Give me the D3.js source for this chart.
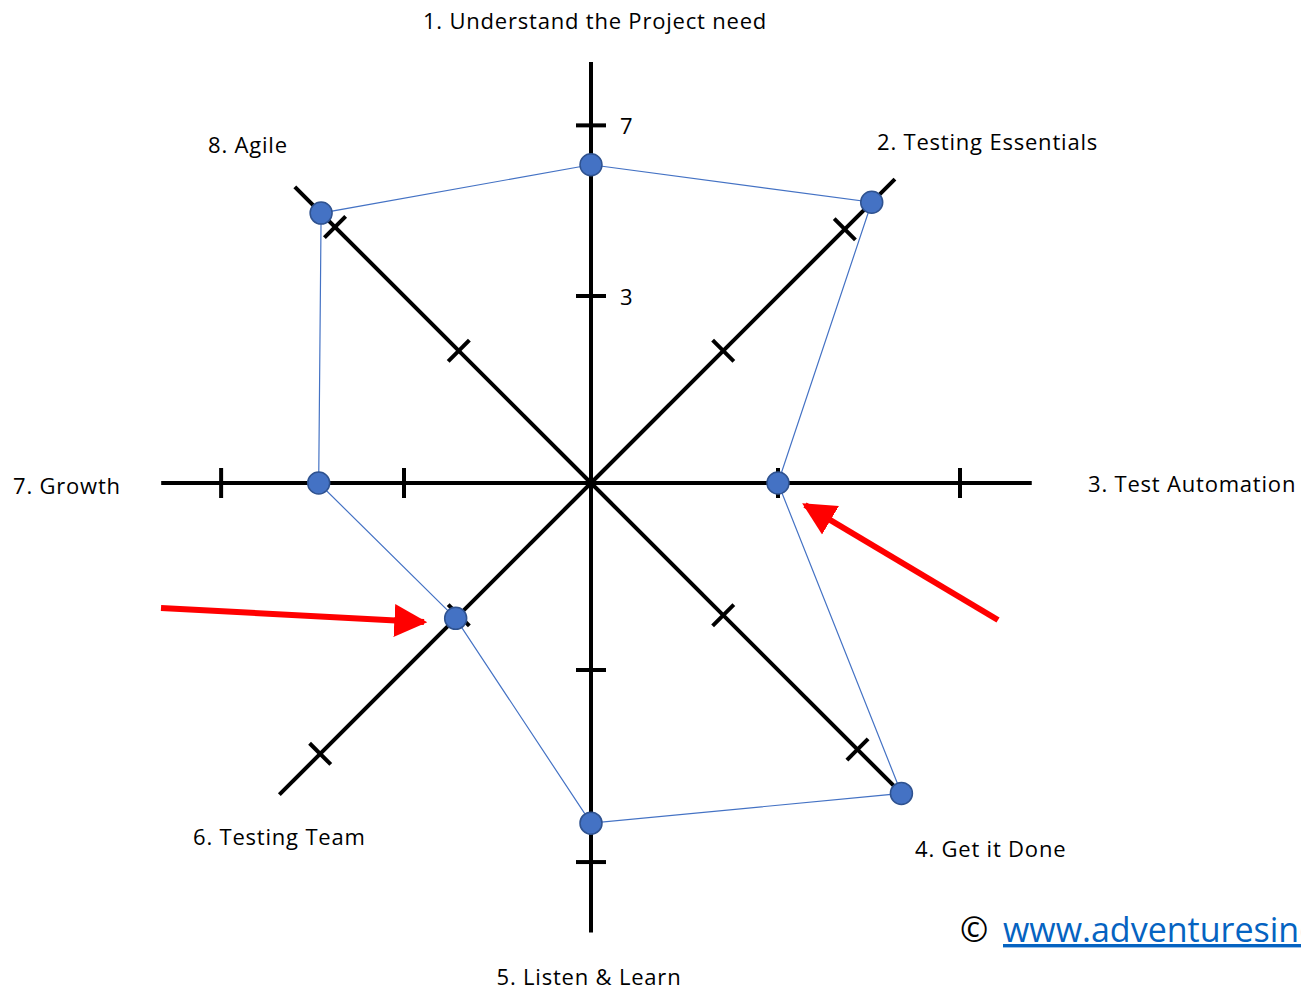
<!DOCTYPE html>
<html><head><meta charset="utf-8">
<script src="https://cdn.jsdelivr.net/npm/d3@7"></script>
<style>html,body{margin:0;padding:0;background:#fff;overflow:hidden}</style>
</head><body>
<svg id="chart" width="1301" height="991"></svg>
<script>
// ---- data ----
const axisLabels = ["1. Understand the Project need","2. Testing Essentials","3. Test Automation","4. Get it Done","5. Listen & Learn","6. Testing Team","7. Growth","8. Agile"];
const scores = [6.0, 7.8, 3.0, 8.76, 6.5, 3.1, 4.95, 7.45];
const innerTicks = [3, 3, 3, 3, 3, 3, 3, 3];
const outerTicks = [6.9, 6.93, 7.16, 7.34, 7.39, 7.48, 7.18, 7.0];
const axisEnds = [8.35, 8.55, 8.8, 8.55, 9.0, 8.8, 8.55, 8.3];
const tickLabels = ["3", "7"];
const tickLabelValues = [3, 6.9];
const copyrightText = "www.adventuresinqa.com";

// ---- layout ----
const cx = 591, cy = 483;
const r = d3.scaleLinear().domain([3, 7]).range([187, 362]);
const angle = i => i * Math.PI / 4; // clockwise from north
const pt = (i, v) => [cx + r(v) * Math.sin(angle(i)), cy - r(v) * Math.cos(angle(i))];
const labelPos = [
  {x:595,y:29,a:"middle"},{x:877,y:150,a:"start"},{x:1088,y:492,a:"start"},{x:915,y:857,a:"start"},
  {x:589,y:985,a:"middle"},{x:193,y:845,a:"start"},{x:13,y:494,a:"start"},{x:208,y:153,a:"start"}];
const font = "'Open Sans', 'Noto Sans', sans-serif";

const svg = d3.select("#chart");
const defs = svg.append("defs");
defs.append("marker").attr("id","ah").attr("viewBox","0 0 10 10").attr("refX",9).attr("refY",5)
  .attr("markerWidth",5.5).attr("markerHeight",6).attr("markerUnits","strokeWidth").attr("orient","auto")
  .append("path").attr("d","M0,0 L10,5 L0,10 Z").attr("fill","#ff0000");

// axes
const idx = d3.range(axisLabels.length);
svg.append("g").selectAll("line").data(idx).join("line")
  .attr("x1", cx).attr("y1", cy)
  .attr("x2", i => pt(i, axisEnds[i])[0]).attr("y2", i => pt(i, axisEnds[i])[1])
  .attr("stroke","#000").attr("stroke-width",4);

// ticks
const ticks = [];
idx.forEach(i => { ticks.push({i, v: innerTicks[i]}); ticks.push({i, v: outerTicks[i]}); });
const half = 15;
svg.append("g").selectAll("line").data(ticks).join("line")
  .attr("x1", d => { const [x] = pt(d.i, d.v); return x - half * Math.cos(angle(d.i)); })
  .attr("y1", d => { const [,y] = pt(d.i, d.v); return y - half * Math.sin(angle(d.i)); })
  .attr("x2", d => { const [x] = pt(d.i, d.v); return x + half * Math.cos(angle(d.i)); })
  .attr("y2", d => { const [,y] = pt(d.i, d.v); return y + half * Math.sin(angle(d.i)); })
  .attr("stroke","#000").attr("stroke-width",4);

// tick labels on axis 1
svg.append("g").selectAll("text").data(tickLabels).join("text")
  .attr("x", cx + 29).attr("y", (d, k) => pt(0, tickLabelValues[k])[1] + 9)
  .attr("font-family", font).attr("font-size", 22).attr("fill","#000").text(d => d);

// polygon
const poly = scores.map((v, i) => pt(i, v));
svg.append("path").attr("d", d3.line()(poly) + "Z")
  .attr("fill","none").attr("stroke","#4472C4").attr("stroke-width",1.2);

// points
svg.append("g").selectAll("circle").data(poly).join("circle")
  .attr("cx", d => d[0]).attr("cy", d => d[1]).attr("r", 11)
  .attr("fill","#4472C4").attr("stroke","#2F528F").attr("stroke-width",1.5);

// labels
svg.append("g").selectAll("text").data(axisLabels).join("text")
  .attr("x", (d, i) => labelPos[i].x).attr("y", (d, i) => labelPos[i].y)
  .attr("text-anchor", (d, i) => labelPos[i].a)
  .attr("font-family", font).attr("font-size", 22).attr("letter-spacing", 0.8)
  .attr("fill","#000").text(d => d);

// arrows
const arrows = [{x1:161,y1:608,x2:424,y2:622},{x1:998,y1:620,x2:805,y2:505}];
svg.append("g").selectAll("line").data(arrows).join("line")
  .attr("x1", d => d.x1).attr("y1", d => d.y1).attr("x2", d => d.x2).attr("y2", d => d.y2)
  .attr("stroke","#ff0000").attr("stroke-width",6).attr("marker-end","url(#ah)");

// copyright (clipped at right edge, as in the original)
const ct = svg.append("text").attr("x", 960).attr("y", 942).attr("font-family", font).attr("font-size", 34);
ct.append("tspan").attr("fill","#000").text("©");
ct.append("tspan").attr("x", 1003).attr("fill","#0563C1").attr("text-decoration","underline").text(copyrightText);
</script>
</body></html>
